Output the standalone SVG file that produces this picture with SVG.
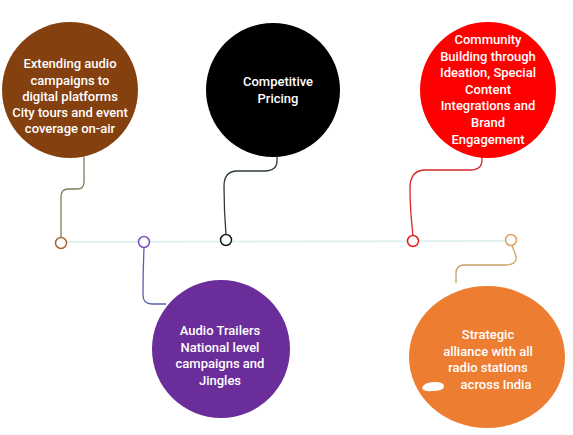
<svg xmlns="http://www.w3.org/2000/svg" width="573" height="435" viewBox="0 0 573 435">
<style>
.lbl{font-family:Roboto,"Liberation Sans",sans-serif;font-size:13px;font-weight:500;fill:#fff;text-anchor:middle}
.dot{fill:#fff;stroke-width:1.5}
.con{fill:none;stroke-width:1.3}
</style>
<rect width="573" height="435" fill="#fff"/>
<g id="timeline"><line x1="55" y1="242" x2="515" y2="241" stroke="#e0f1f1" stroke-width="2"/></g>
<g id="connectors">
<path class="con" stroke="#7f7a5c" d="M84 157 V182 Q84 189 77 189 H68 Q61 189 61 197 V237"/>
<path class="con" stroke="#2d3a34" d="M277 157 V161 Q277 170 266 171 H236 Q224 172 224 186 Q224 210 226 235"/>
<path class="con" stroke="#5b5fb0" d="M144 248 Q143 270 143 295 Q143 304 152 304 H166"/>
<path class="con" stroke="#d6282a" d="M482 153 V160 Q482 170 470 170 H424 Q410 171 410 188 Q410 210 413 235"/>
<path class="con" stroke="#c8a060" d="M512 246 Q515 252 516 257 Q517 265 505 265 H463 Q456 266 456 273 V283"/>
</g>
<g id="n1"><circle cx="70" cy="90" r="68" fill="#84400f"/>
<text class="lbl"><tspan x="70" y="68">Extending audio</tspan><tspan x="70" y="85">campaigns to</tspan><tspan x="70" y="101">digital platforms</tspan><tspan x="70" y="117">City tours and event</tspan><tspan x="70" y="133">coverage on-air</tspan></text>
<circle class="dot" cx="61" cy="243" r="5.5" stroke="#a5693a"/></g>
<g id="n2"><circle cx="273" cy="90" r="67" fill="#000"/>
<text class="lbl"><tspan x="278" y="86">Competitive</tspan><tspan x="278" y="103">Pricing</tspan></text>
<circle class="dot" cx="226" cy="240" r="5.5" stroke="#1a1a1a"/></g>
<g id="n3"><circle cx="488" cy="90" r="68" fill="#fe0000"/>
<text class="lbl"><tspan x="488" y="44">Community</tspan><tspan x="488" y="61">Building through</tspan><tspan x="488" y="77">Ideation, Special</tspan><tspan x="488" y="94">Content</tspan><tspan x="488" y="110">Integrations and</tspan><tspan x="488" y="127">Brand</tspan><tspan x="488" y="144">Engagement</tspan></text>
<circle class="dot" cx="413" cy="241" r="5.5" stroke="#e02020"/></g>
<g id="n4"><circle cx="221" cy="349" r="69" fill="#6a2d9a"/>
<text class="lbl"><tspan x="220" y="335">Audio Trailers</tspan><tspan x="220" y="352">National level</tspan><tspan x="220" y="368">campaigns and</tspan><tspan x="220" y="385">Jingles</tspan></text>
<circle class="dot" cx="144" cy="242" r="5.5" stroke="#7b4fc0"/></g>
<g id="n5"><ellipse cx="487" cy="357" rx="78" ry="71" fill="#ed7d31"/>
<text class="lbl"><tspan x="488" y="339">Strategic</tspan><tspan x="488" y="356">alliance with all</tspan><tspan x="488" y="372">radio stations</tspan><tspan x="496" y="389">across India</tspan></text>
<path d="M422 388 Q424 382 434 382 Q445 382 444 387 Q443 391 432 391 Q424 392 422 388 Z" fill="#fff"/>
<circle class="dot" cx="511" cy="240" r="5.5" stroke="#e0a060"/></g>
</svg>
